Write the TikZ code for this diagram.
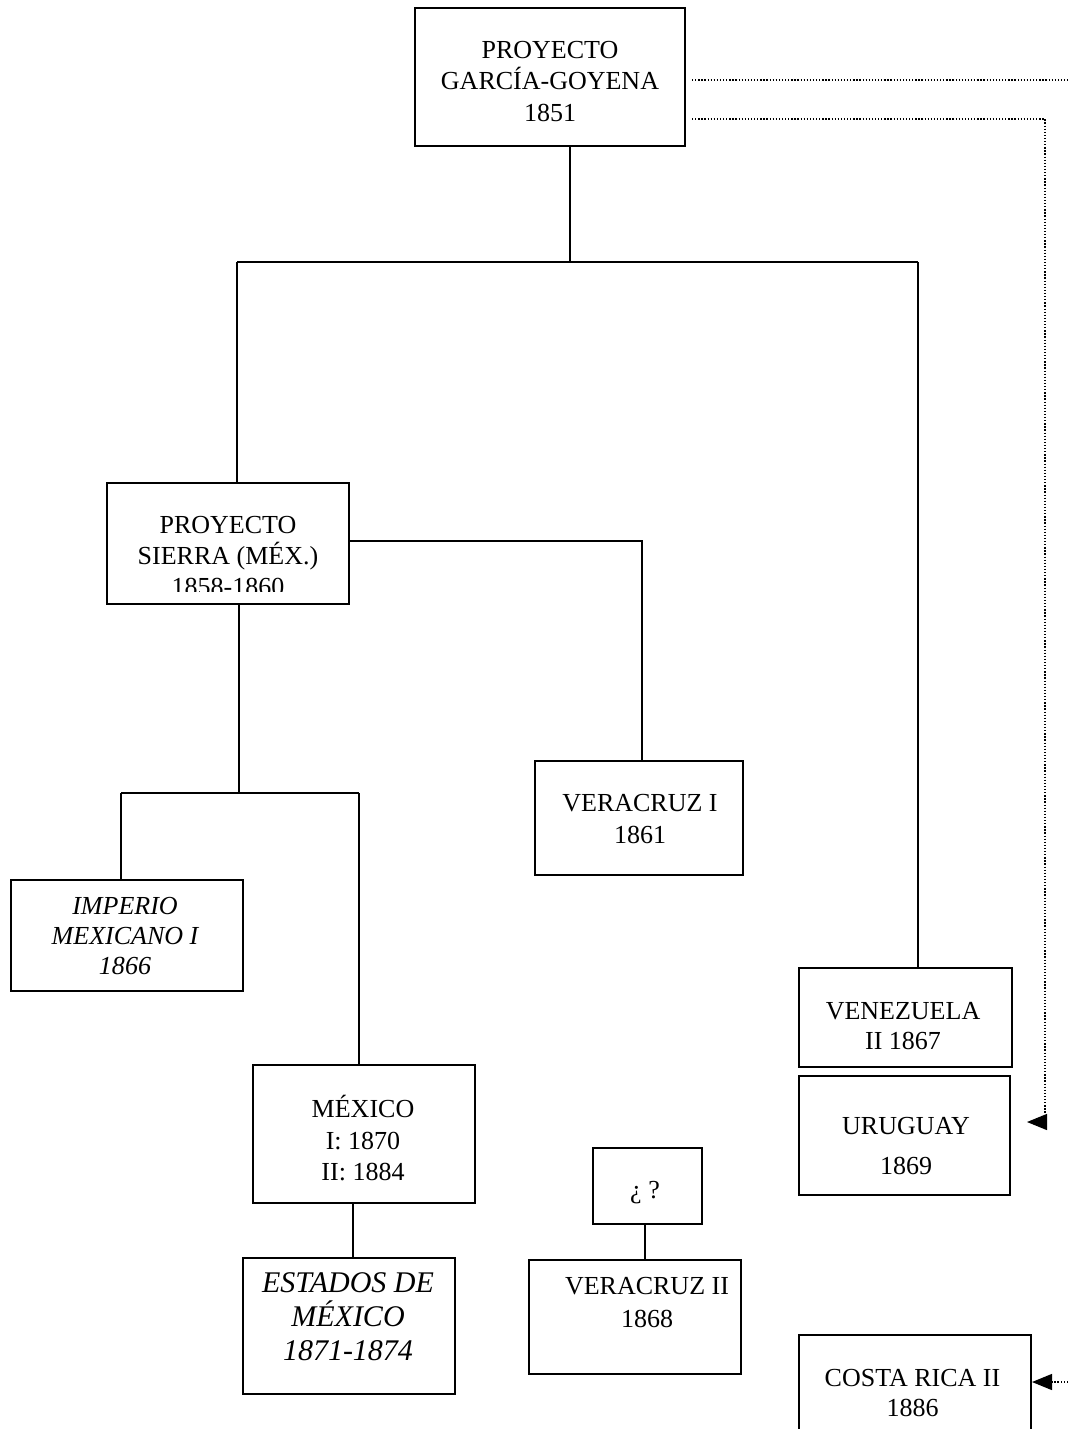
\documentclass[tikz,border=0pt]{standalone}
\usepackage{fontspec}
\setmainfont{Liberation Serif}
\usetikzlibrary{arrows.meta}
\newcommand\lnstrut{\rule[-5pt]{0pt}{22pt}}
\newcommand\lnstrutb{\rule[-5pt]{0pt}{25pt}}
\tikzset{
  box/.style={draw, line width=1.7pt, inner sep=0pt},
  txt/.style={align=center, inner sep=0pt, font=\fontsize{26}{#1}\selectfont},
  txt/.default=31,
  itxt/.style={align=center, inner sep=0pt, font=\fontsize{26}{#1}\selectfont\itshape},
  itxt/.default=31,
  btxt/.style={align=center, inner sep=0pt, font=\fontsize{30}{#1}\selectfont\itshape},
  btxt/.default=34,
  conn/.style={line width=1.7pt},
  dots/.style={line width=1.3pt, dash pattern=on 1.3pt off 1.8pt},
  tip/.style={-{Triangle[length=20pt,width=16pt]}},
}
\begin{document}
\begin{tikzpicture}[x=1pt,y=-1pt]
\useasboundingbox (0,0) rectangle (1068,1429);
\clip (0,0) rectangle (1068,1429);

% boxes
\node[box, minimum width=270pt, minimum height=138pt] (gg) at (550,77) {};
\node[txt=31.5] (gg-t) at (550,83.5) {\lnstrut PROYECTO\\ \lnstrut GARCÍA-GOYENA\\ \lnstrut 1851};

\node[box, minimum width=242pt, minimum height=121pt] (sierra) at (228,543.5) {};
\begin{scope}
  \clip (107,483) rectangle (349,591);
  \node[txt=31] (sierra-t) at (228,558) {\lnstrut PROYECTO\\ \lnstrut SIERRA (MÉX.)\\ \lnstrut 1858-1860};
\end{scope}

\node[box, minimum width=208pt, minimum height=114pt] (ver1) at (639,818) {};
\node[txt=32] (ver1-t) at (640,821) {\lnstrut VERACRUZ I\\ \lnstrut 1861};

\node[box, minimum width=232pt, minimum height=111pt] (imperio) at (127,935.5) {};
\node[itxt=30] (imperio-t) at (125,938) {\lnstrut IMPERIO\\ \lnstrut MEXICANO I\\ \lnstrut 1866};

\node[box, minimum width=213pt, minimum height=99pt] (venez) at (905.5,1017.5) {};
\node[txt=30] (venez-t) at (903,1028) {\lnstrut VENEZUELA\\ \lnstrut II 1867};

\node[box, minimum width=211pt, minimum height=119pt] (uruguay) at (904.5,1135.5) {};
\node[txt=40] (uruguay-t) at (906,1148) {\lnstrut URUGUAY\\ \lnstrut 1869};

\node[box, minimum width=222pt, minimum height=138pt] (mexico) at (364,1134) {};
\node[txt=31.5] (mexico-t) at (363,1140.5) {\lnstrut MÉXICO\\ \lnstrut I: 1870\\ \lnstrut II: 1884};

\node[box, minimum width=212pt, minimum height=136pt] (estados) at (349,1326) {};
\node[btxt=34] (estados-t) at (348,1319) {\lnstrutb ESTADOS DE\\ \lnstrutb MÉXICO\\ \lnstrutb 1871-1874};

\node[box, minimum width=109pt, minimum height=76pt] (quest) at (647.5,1186) {};
\node[txt] (quest-t) at (645,1193) {\lnstrut ¿ ?};

\node[box, minimum width=212pt, minimum height=114pt] (ver2) at (635,1317) {};
\node[txt=33] (ver2-t) at (647,1304.5) {\lnstrut VERACRUZ II\\ \lnstrut 1868};

\node[box, minimum width=232pt, minimum height=110pt] (costa) at (915,1390) {};
\node[txt=30] (costa-t) at (912.5,1395) {\lnstrut COSTA RICA II\\ \lnstrut 1886};

% solid connectors
\coordinate (jA) at (570,262);
\coordinate (jL) at (237,262);
\coordinate (jR) at (918,262);
\draw[conn] (gg.south -| jA) -- (jA);
\draw[conn] (jL) -- (jR);
\draw[conn] (jL) -- (jL |- sierra.north);
\draw[conn] (jR) -- (jR |- venez.north);

\coordinate (jV) at (642,541);
\draw[conn] (sierra.east |- jV) -- (jV) -- (jV |- ver1.north);

\coordinate (jS) at (239,793);
\coordinate (jSL) at (121,793);
\coordinate (jSR) at (359,793);
\draw[conn] (sierra.south -| jS) -- (jS);
\draw[conn] (jSL) -- (jSR);
\draw[conn] (jSL) -- (jSL |- imperio.north);
\draw[conn] (jSR) -- (jSR |- mexico.north);

\coordinate (jM) at (353,1230);
\draw[conn] (mexico.south -| jM) -- (estados.north -| jM);

\coordinate (jQ) at (645,1240);
\draw[conn] (quest.south -| jQ) -- (ver2.north -| jQ);

% dotted connectors
\coordinate (e1) at (1068,80);
\coordinate (s1) at (692,80);
\draw[dots] (s1) -- (e1);

\coordinate (s2) at (692,119);
\coordinate (c2) at (1045,119);
\coordinate (c3) at (1045,1122);
\coordinate (tU) at (1027,1122);
\draw[dots, tip] (s2) -- (c2) -- (c3) -- (tU);

\coordinate (e3) at (1068,1382);
\coordinate (tC) at (1032,1382);
\draw[dots, tip] (e3) -- (tC);
\end{tikzpicture}
\end{document}
